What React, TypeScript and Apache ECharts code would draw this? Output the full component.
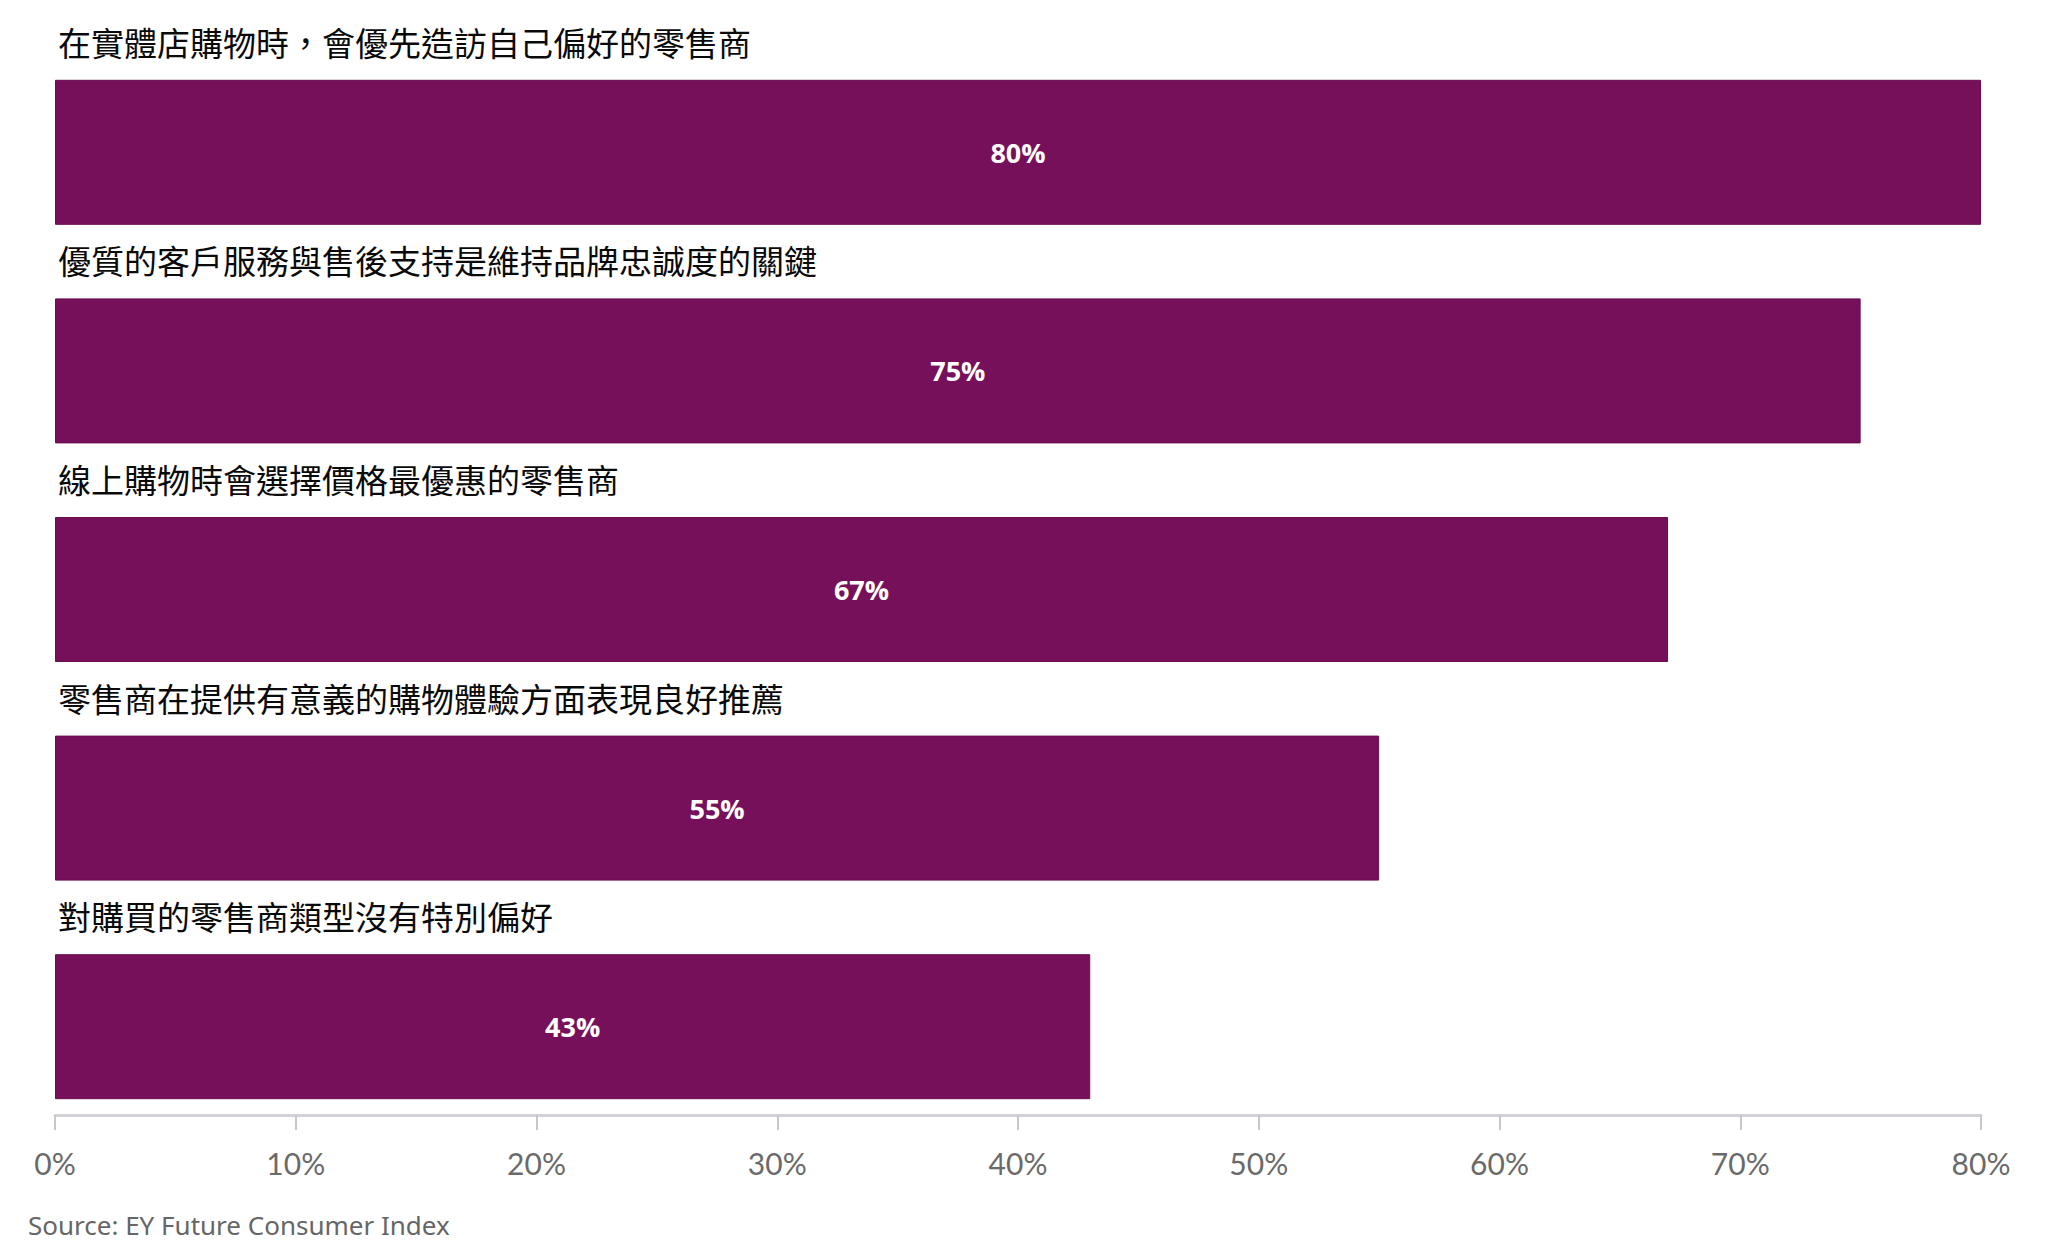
import React, { useEffect, useRef } from 'react';
import * as echarts from 'echarts';

const CATEGORIES = [
  '在實體店購物時，會優先造訪自己偏好的零售商',
  '優質的客戶服務與售後支持是維持品牌忠誠度的關鍵',
  '線上購物時會選擇價格最優惠的零售商',
  '零售商在提供有意義的購物體驗方面表現良好推薦',
  '對購買的零售商類型沒有特別偏好',
];
const VALUES = [80, 75, 67, 55, 43];
const AXIS_MAX = 80;
const AXIS_STEP = 10;
const SOURCE = 'Source: EY Future Consumer Index';

const BAR_COLOR = '#77105A';

export default function App() {
  const chartRef = useRef<HTMLDivElement>(null);

  useEffect(() => {
    document.body.style.margin = '0';
    if (!chartRef.current) return;
    const chart = echarts.init(chartRef.current, null, { renderer: 'svg' });

    chart.setOption({
      animation: false,
      backgroundColor: '#ffffff',
      grid: { left: 55, right: 67, top: 43, bottom: 111 },
      xAxis: {
        type: 'value',
        min: 0,
        max: AXIS_MAX,
        interval: AXIS_STEP,
        offset: -21,
        splitLine: { show: false },
        axisLine: { show: true, lineStyle: { color: '#d2d2d6', width: 3 } },
        axisTick: { show: true, length: 15, lineStyle: { color: '#c8c8cc', width: 2 } },
        axisLabel: {
          margin: 33,
          fontSize: 30,
          fontFamily: 'Lato, "Noto Sans", sans-serif',
          color: (v: number) => (v === AXIS_MAX ? '#333333' : '#6a6a6a'),
          formatter: '{value}%',
        },
      },
      yAxis: {
        type: 'category',
        inverse: true,
        data: CATEGORIES,
        axisLine: { show: false },
        axisTick: { show: false },
        axisLabel: { show: false },
      },
      series: [
        {
          type: 'bar',
          data: VALUES,
          barWidth: 145,
          itemStyle: { color: BAR_COLOR, borderColor: '#6a0c4e', borderWidth: 1 },
          label: {
            show: true,
            position: 'inside',
            formatter: '{c}%',
            color: '#ffffff',
            fontWeight: 'bold',
            fontSize: 27,
            fontFamily: '"Open Sans", "Noto Sans", sans-serif',
          },
        },
        {
          type: 'bar',
          data: VALUES,
          barWidth: 145,
          barGap: '-100%',
          silent: true,
          itemStyle: { color: 'rgba(0,0,0,0)' },
          label: {
            show: true,
            position: [3, -38],
            align: 'left',
            verticalAlign: 'middle',
            formatter: '{b}',
            color: '#0a0a0a',
            fontSize: 33,
            fontFamily: '"Noto Sans CJK TC", "Noto Sans CJK SC", sans-serif',
          },
        },
      ],
      graphic: [
        {
          type: 'text',
          left: 28,
          top: 1212,
          style: {
            text: SOURCE,
            fill: '#666666',
            fontSize: 26,
            fontFamily: '"Noto Sans", sans-serif',
          },
        },
      ],
    });

    return () => {
      chart.dispose();
    };
  }, []);

  return <div ref={chartRef} style={{ width: '2048px', height: '1247px' }} />;
}
